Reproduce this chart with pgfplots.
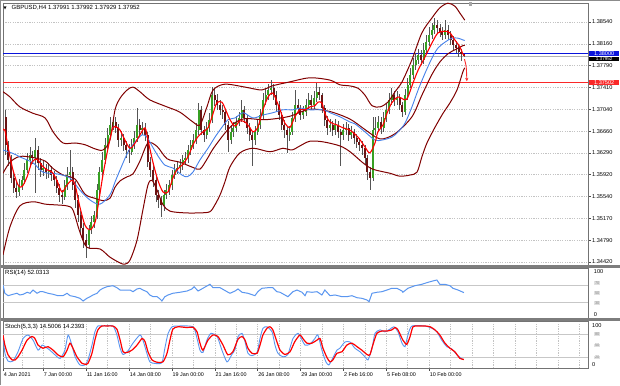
\documentclass[border=0pt]{standalone}
\usepackage{pgfplots}
\pgfplotsset{compat=1.18}
\usepackage{pgfplotstable}
\usetikzlibrary{arrows.meta}
\usepackage{fontspec}
\setmainfont{Liberation Sans}
\newfontfamily\symfont{DejaVu Sans}
\definecolor{bull}{RGB}{55,160,35}
\definecolor{bear}{RGB}{105,20,20}
\definecolor{wick}{RGB}{85,85,85}
\definecolor{bbcol}{RGB}{128,0,0}
\definecolor{maline}{RGB}{255,0,0}
\definecolor{mablue}{RGB}{70,130,235}
\definecolor{rsicol}{RGB}{90,150,240}
\definecolor{gridcol}{RGB}{195,195,195}
\definecolor{sepcol}{RGB}{125,125,125}
\definecolor{lvlblue}{RGB}{10,20,220}
\definecolor{lvlred}{RGB}{250,40,40}
\newcommand\lbl{\fontsize{6}{7}\selectfont}
\newcommand\tck{\fontsize{5.6}{6.5}\selectfont}
\newcommand\tml{\fontsize{5.4}{6}\selectfont}
\pgfplotsset{
  mtaxis/.style={
    scale only axis, width=585pt, xmin=0, xmax=218.3, anchor=south west,
    axis line style={draw=black!55, line width=0.5pt},
    minor xtick={7,15,23,31,39,47,55,63,71,79,87,95,103,111,119,127,135,143,151,159,167,175,183,191,199,207,215},
    xminorgrids=true,
    minor grid style={draw=gridcol, dash pattern=on 1.2pt off 1.2pt, line width=0.35pt},
    minor tick length=0pt,
    ytick pos=right, yticklabel pos=right,
    tick align=outside,
    yticklabel style={font=\tck, inner xsep=1.5pt},
    clip=true,
  },
  candlebar/.style={only marks, mark=none, mark size=0pt,
    error bars/.cd, y dir=both, y explicit, error mark=none,
    error bar style={color=#1, draw=#1, line width=2pt}},
}
\pgfplotstableread{
b o h l c d
1 1.3690 1.3702 1.3625 1.3643 0
2 1.3643 1.3650 1.3606 1.3617 0
3 1.3617 1.3626 1.3578 1.3586 0
4 1.3586 1.3595 1.3560 1.3569 0
5 1.3569 1.3580 1.3552 1.3562 0
6 1.3562 1.3584 1.3555 1.3572 1
7 1.3572 1.3590 1.3566 1.3582 1
8 1.3582 1.3612 1.3576 1.3600 1
9 1.3600 1.3628 1.3594 1.3617 1
10 1.3617 1.3640 1.3609 1.3625 1
11 1.3625 1.3633 1.3610 1.3620 0
12 1.3620 1.3655 1.3560 1.3634 1
13 1.3634 1.3640 1.3600 1.3612 0
14 1.3612 1.3620 1.3588 1.3600 0
15 1.3600 1.3615 1.3590 1.3603 1
16 1.3603 1.3610 1.3585 1.3596 0
17 1.3596 1.3612 1.3586 1.3600 1
18 1.3600 1.3606 1.3580 1.3591 0
19 1.3591 1.3598 1.3572 1.3582 0
20 1.3582 1.3590 1.3560 1.3569 0
21 1.3569 1.3575 1.3545 1.3557 0
22 1.3557 1.3566 1.3541 1.3553 0
23 1.3553 1.3582 1.3548 1.3574 1
24 1.3574 1.3605 1.3566 1.3591 1
25 1.3591 1.3634 1.3583 1.3596 1
26 1.3596 1.3605 1.3565 1.3574 0
27 1.3574 1.3580 1.3535 1.3548 0
28 1.3548 1.3556 1.3510 1.3522 0
29 1.3522 1.3530 1.3488 1.3500 0
30 1.3500 1.3508 1.3465 1.3479 0
31 1.3479 1.3490 1.3449 1.3471 0
32 1.3471 1.3505 1.3465 1.3497 1
33 1.3497 1.3520 1.3490 1.3510 1
34 1.3510 1.3530 1.3500 1.3522 1
35 1.3522 1.3575 1.3515 1.3565 1
36 1.3565 1.3605 1.3555 1.3596 1
37 1.3596 1.3630 1.3588 1.3617 1
38 1.3617 1.3655 1.3610 1.3643 1
39 1.3643 1.3672 1.3635 1.3660 1
40 1.3660 1.3690 1.3652 1.3677 1
41 1.3677 1.3691 1.3668 1.3682 1
42 1.3682 1.3690 1.3664 1.3672 0
43 1.3672 1.3678 1.3640 1.3651 0
44 1.3651 1.3666 1.3640 1.3655 1
45 1.3655 1.3662 1.3632 1.3643 0
46 1.3643 1.3650 1.3620 1.3634 0
47 1.3634 1.3645 1.3612 1.3631 0
48 1.3631 1.3652 1.3625 1.3643 1
49 1.3643 1.3666 1.3636 1.3655 1
50 1.3655 1.3706 1.3648 1.3677 1
51 1.3677 1.3688 1.3657 1.3668 0
52 1.3668 1.3683 1.3660 1.3672 1
53 1.3672 1.3680 1.3650 1.3660 0
54 1.3660 1.3665 1.3605 1.3613 0
55 1.3613 1.3622 1.3588 1.3600 0
56 1.3600 1.3608 1.3570 1.3582 0
57 1.3582 1.3590 1.3545 1.3557 0
58 1.3557 1.3566 1.3535 1.3548 0
59 1.3548 1.3555 1.3519 1.3540 0
60 1.3540 1.3565 1.3530 1.3557 1
61 1.3557 1.3575 1.3550 1.3565 1
62 1.3565 1.3583 1.3557 1.3574 1
63 1.3574 1.3600 1.3566 1.3591 1
64 1.3591 1.3610 1.3584 1.3600 1
65 1.3600 1.3614 1.3592 1.3603 1
66 1.3603 1.3618 1.3595 1.3608 1
67 1.3608 1.3626 1.3600 1.3617 1
68 1.3617 1.3630 1.3610 1.3620 1
69 1.3620 1.3643 1.3612 1.3634 1
70 1.3634 1.3652 1.3626 1.3643 1
71 1.3643 1.3662 1.3635 1.3651 1
72 1.3651 1.3680 1.3644 1.3668 1
73 1.3668 1.3715 1.3660 1.3703 1
74 1.3703 1.3710 1.3660 1.3668 0
75 1.3668 1.3675 1.3648 1.3660 0
76 1.3660 1.3682 1.3652 1.3672 1
77 1.3672 1.3698 1.3665 1.3686 1
78 1.3686 1.3742 1.3680 1.3728 1
79 1.3728 1.3738 1.3710 1.3720 0
80 1.3720 1.3730 1.3702 1.3711 0
81 1.3711 1.3720 1.3694 1.3703 0
82 1.3703 1.3712 1.3688 1.3699 0
83 1.3699 1.3705 1.3668 1.3677 0
84 1.3677 1.3683 1.3630 1.3651 0
85 1.3651 1.3675 1.3644 1.3665 1
86 1.3665 1.3682 1.3657 1.3672 1
87 1.3672 1.3692 1.3665 1.3682 1
88 1.3682 1.3700 1.3675 1.3689 1
89 1.3689 1.3720 1.3682 1.3703 1
90 1.3703 1.3710 1.3680 1.3689 0
91 1.3689 1.3695 1.3662 1.3672 0
92 1.3672 1.3680 1.3650 1.3660 0
93 1.3660 1.3666 1.3606 1.3651 0
94 1.3651 1.3675 1.3643 1.3665 1
95 1.3665 1.3688 1.3660 1.3677 1
96 1.3677 1.3705 1.3670 1.3694 1
97 1.3694 1.3732 1.3688 1.3720 1
98 1.3720 1.3740 1.3712 1.3728 1
99 1.3728 1.3748 1.3720 1.3737 1
100 1.3737 1.3754 1.3728 1.3740 1
101 1.3740 1.3748 1.3720 1.3728 0
102 1.3728 1.3735 1.3700 1.3711 0
103 1.3711 1.3718 1.3685 1.3694 0
104 1.3694 1.3700 1.3668 1.3677 0
105 1.3677 1.3685 1.3655 1.3668 0
106 1.3668 1.3675 1.3629 1.3660 0
107 1.3660 1.3676 1.3650 1.3665 1
108 1.3665 1.3700 1.3660 1.3689 1
109 1.3689 1.3737 1.3682 1.3711 1
110 1.3711 1.3722 1.3698 1.3706 0
111 1.3706 1.3712 1.3685 1.3694 0
112 1.3694 1.3710 1.3688 1.3699 1
113 1.3699 1.3722 1.3692 1.3711 1
114 1.3711 1.3732 1.3705 1.3720 1
115 1.3720 1.3728 1.3702 1.3711 0
116 1.3711 1.3735 1.3705 1.3723 1
117 1.3723 1.3749 1.3716 1.3734 1
118 1.3734 1.3742 1.3720 1.3728 0
119 1.3728 1.3732 1.3698 1.3706 0
120 1.3706 1.3712 1.3676 1.3686 0
121 1.3686 1.3692 1.3660 1.3672 0
122 1.3672 1.3688 1.3665 1.3677 1
123 1.3677 1.3684 1.3658 1.3668 0
124 1.3668 1.3688 1.3660 1.3677 1
125 1.3677 1.3683 1.3655 1.3665 0
126 1.3665 1.3670 1.3606 1.3660 0
127 1.3660 1.3678 1.3652 1.3668 1
128 1.3668 1.3682 1.3660 1.3672 1
129 1.3672 1.3678 1.3650 1.3660 0
130 1.3660 1.3675 1.3652 1.3665 1
131 1.3665 1.3670 1.3645 1.3655 0
132 1.3655 1.3662 1.3638 1.3648 0
133 1.3648 1.3655 1.3632 1.3643 0
134 1.3643 1.3650 1.3626 1.3637 0
135 1.3637 1.3642 1.3608 1.3620 0
136 1.3620 1.3625 1.3583 1.3596 0
137 1.3596 1.3605 1.3565 1.3586 0
138 1.3586 1.3691 1.3580 1.3668 1
139 1.3668 1.3690 1.3660 1.3672 1
140 1.3672 1.3692 1.3665 1.3682 1
141 1.3682 1.3690 1.3662 1.3672 0
142 1.3672 1.3700 1.3665 1.3689 1
143 1.3689 1.3715 1.3682 1.3703 1
144 1.3703 1.3732 1.3696 1.3720 1
145 1.3720 1.3740 1.3712 1.3728 1
146 1.3728 1.3736 1.3710 1.3720 0
147 1.3720 1.3735 1.3712 1.3723 1
148 1.3723 1.3730 1.3702 1.3711 0
149 1.3711 1.3716 1.3690 1.3699 0
150 1.3699 1.3738 1.3694 1.3728 1
151 1.3728 1.3757 1.3720 1.3746 1
152 1.3746 1.3775 1.3740 1.3763 1
153 1.3763 1.3792 1.3756 1.3780 1
154 1.3780 1.3800 1.3772 1.3789 1
155 1.3789 1.3808 1.3782 1.3797 1
156 1.3797 1.3805 1.3780 1.3789 0
157 1.3789 1.3818 1.3782 1.3806 1
158 1.3806 1.3832 1.3800 1.3819 1
159 1.3819 1.3845 1.3812 1.3831 1
160 1.3831 1.3852 1.3825 1.3840 1
161 1.3840 1.3861 1.3834 1.3849 1
162 1.3849 1.3858 1.3834 1.3843 0
163 1.3843 1.3850 1.3828 1.3837 0
164 1.3837 1.3845 1.3822 1.3831 0
165 1.3831 1.3857 1.3825 1.3840 1
166 1.3840 1.3848 1.3822 1.3831 0
167 1.3831 1.3838 1.3814 1.3823 0
168 1.3823 1.3830 1.3806 1.3814 0
169 1.3814 1.3822 1.3800 1.3809 0
170 1.3809 1.3815 1.3794 1.3802 0
171 1.3802 1.3808 1.3786 1.37991 0
172 1.37991 1.37992 1.37929 1.37952 0
}\candles
\begin{document}
\begin{tikzpicture}
\path[use as bounding box, fill=white] (0pt,0pt) rectangle (620pt,385pt);
% ---------------- main price panel ----------------
\begin{axis}[mtaxis, at={(3pt,120pt)}, height=262pt,
  ymin=1.34365, ymax=1.38864,
  xtick=\empty,
  ytick={1.3442,1.3479,1.3517,1.3554,1.3592,1.3629,1.3666,1.3704,1.3741,1.3779,1.3816,1.3854},
  yticklabels={1.34420,1.34790,1.35170,1.35540,1.35920,1.36290,1.36660,1.37040,1.37410,1.37790,1.38160,1.38540},
  ymajorgrids=true,
  major grid style={draw=gridcol, dash pattern=on 1.2pt off 1.2pt, line width=0.35pt},
  major tick length=2.5pt, ytick style={draw=black!70, line width=0.4pt},
]
\addplot[black!30, line width=0.4pt] coordinates {(0,1.37952) (218.3,1.37952)};
\addplot[lvlblue, line width=1.1pt] coordinates {(0,1.38000) (218.3,1.38000)};
\addplot[lvlred, line width=1.3pt] coordinates {(0,1.37502) (218.3,1.37502)};
% candles: wicks, then bodies
\addplot[wick, only marks, mark=none, mark size=0pt, error bars/.cd, y dir=both, y explicit, error mark=none,
  error bar style={color=wick, line width=0.5pt}]
  table[x=b, y expr=(\thisrow{h}+\thisrow{l})/2, y error expr=(\thisrow{h}-\thisrow{l})/2] {\candles};
\addplot[bull, candlebar=bull]
  table[x=b, y expr=(\thisrow{o}+\thisrow{c})/2, y error expr=\thisrow{d}*abs(\thisrow{c}-\thisrow{o})/2] {\candles};
\addplot[bear, candlebar=bear]
  table[x=b, y expr=(\thisrow{o}+\thisrow{c})/2, y error expr=(1-\thisrow{d})*abs(\thisrow{c}-\thisrow{o})/2] {\candles};
% Bollinger bands
\addplot[bbcol, line width=1pt, smooth, tension=0.5] coordinates {
(0,1.3734)(2.6,1.3725)(6.3,1.3708)(11.2,1.3697)(15.7,1.3689)(18.7,1.3665)(22.4,1.3646)(26.9,1.3646)(30.6,1.3643)(34.3,1.3636)(37.3,1.3634)(39.9,1.3651)(41.8,1.3703)(43.7,1.3723)(46.3,1.3737)(48.5,1.3742)(51.1,1.3734)(54.8,1.3720)(61.2,1.3708)(66.0,1.3699)(70.9,1.3682)(73.5,1.3677)(76.1,1.3708)(78.4,1.3737)(82.8,1.3747)(90.3,1.3742)(96.6,1.3737)(100.4,1.3744)(107.1,1.3751)(114.5,1.3758)(122.0,1.3754)(125.7,1.3746)(129.5,1.3744)(132.5,1.3740)(135.1,1.3728)(137.7,1.3710)(140.7,1.3708)(143.6,1.3716)(146.3,1.3734)(148.9,1.3751)(152.6,1.3789)(156.3,1.3835)(160.1,1.3861)(163.0,1.3878)(166.0,1.3886)(168.6,1.3881)(170.5,1.3869)(172.3,1.3857)};
\addplot[bbcol, line width=1pt, smooth, tension=0.5] coordinates {
(0,1.3594)(2.6,1.3613)(6.3,1.3623)(11.2,1.3621)(15.7,1.3615)(18.7,1.3602)(22.4,1.3591)(26.9,1.3584)(30.6,1.3558)(34.3,1.3551)(37.3,1.3547)(39.9,1.3551)(41.8,1.3570)(43.7,1.3581)(46.3,1.3588)(48.5,1.3593)(51.1,1.3615)(54.1,1.3646)(57.5,1.3640)(61.2,1.3619)(66.0,1.3613)(70.9,1.3604)(73.5,1.3601)(76.1,1.3618)(78.4,1.3636)(82.8,1.3663)(86.6,1.3681)(90.3,1.3688)(96.6,1.3686)(100.4,1.3687)(107.1,1.3692)(114.5,1.3704)(122.0,1.3700)(129.5,1.3687)(135.1,1.3669)(140.7,1.3653)(146.3,1.3662)(152.6,1.3691)(156.3,1.3728)(160.1,1.3764)(163.0,1.3785)(166.0,1.3799)(168.6,1.3806)(171.6,1.3813)(172.3,1.3814)};
\addplot[bbcol, line width=1pt, smooth, tension=0.5] coordinates {
(0,1.3454)(2.6,1.3502)(6.3,1.3538)(11.2,1.3545)(15.7,1.3541)(18.7,1.3540)(23.9,1.3538)(26.1,1.3531)(28.7,1.3493)(31.3,1.3467)(36.2,1.3464)(39.9,1.3450)(43.7,1.3440)(45.5,1.3438)(47.4,1.3445)(50.0,1.3479)(52.2,1.3531)(54.1,1.3574)(55.6,1.3582)(57.5,1.3565)(59.7,1.3540)(62.3,1.3529)(67.9,1.3526)(73.5,1.3526)(77.2,1.3528)(79.1,1.3540)(81.0,1.3557)(82.8,1.3579)(84.7,1.3605)(88.4,1.3629)(93.3,1.3637)(99.6,1.3631)(104.5,1.3637)(107.8,1.3634)(110.8,1.3641)(114.5,1.3649)(119.4,1.3648)(125.7,1.3641)(129.5,1.3631)(134.3,1.3612)(138.0,1.3601)(144.4,1.3594)(148.1,1.3589)(151.9,1.3591)(154.5,1.3596)(156.3,1.3622)(158.2,1.3646)(161.2,1.3673)(164.2,1.3697)(166.8,1.3715)(169.4,1.3737)(171.6,1.3768)(172.3,1.3775)};
% slow MA (blue)
\addplot[mablue, line width=0.9pt, smooth, tension=0.5] coordinates {
(0,1.3634)(2.6,1.3630)(5.2,1.3625)(6.3,1.3622)(11.2,1.3612)(14.9,1.3596)(20.1,1.3593)(25.0,1.3586)(28.7,1.3565)(32.5,1.3548)(36.2,1.3541)(39.9,1.3557)(41.8,1.3579)(43.7,1.3600)(46.6,1.3630)(49.3,1.3648)(51.9,1.3660)(53.7,1.3656)(55.6,1.3641)(57.8,1.3624)(60.4,1.3608)(63.4,1.3603)(66.8,1.3591)(68.7,1.3588)(70.9,1.3596)(73.5,1.3617)(76.5,1.3637)(79.1,1.3656)(81.7,1.3673)(84.0,1.3686)(86.6,1.3689)(89.6,1.3698)(93.3,1.3689)(97.0,1.3694)(100.7,1.3698)(104.5,1.3703)(108.2,1.3703)(110.8,1.3706)(114.5,1.3703)(119.4,1.3703)(122.0,1.3698)(125.7,1.3691)(129.5,1.3682)(131.3,1.3679)(135.1,1.3665)(138.8,1.3651)(141.4,1.3651)(145.1,1.3656)(147.4,1.3665)(150.0,1.3680)(152.6,1.3708)(154.9,1.3737)(157.5,1.3766)(160.1,1.3792)(162.3,1.3809)(164.9,1.3819)(167.5,1.3826)(169.8,1.3826)(171.6,1.3823)(172.3,1.3822)};
% fast MA (red)
\addplot[maline, line width=1.1pt, smooth, tension=0.5] coordinates {
(0,1.3668)(0.7,1.3668)(1.9,1.3639)(3.7,1.3600)(5.6,1.3574)(7.1,1.3571)(9.0,1.3588)(10.8,1.3613)(12.7,1.3618)(14.6,1.3607)(16.4,1.3600)(18.3,1.3596)(20.1,1.3582)(22.0,1.3562)(23.9,1.3574)(25.7,1.3582)(26.9,1.3574)(28.7,1.3536)(30.6,1.3505)(32.5,1.3497)(34.3,1.3509)(35.4,1.3536)(37.3,1.3591)(39.2,1.3637)(41.0,1.3672)(42.5,1.3673)(43.7,1.3668)(45.5,1.3651)(47.4,1.3637)(49.3,1.3646)(51.1,1.3660)(53.0,1.3672)(54.1,1.3651)(56.0,1.3612)(57.8,1.3582)(59.7,1.3562)(61.6,1.3562)(63.4,1.3586)(64.9,1.3600)(66.8,1.3608)(69.0,1.3622)(70.9,1.3643)(72.8,1.3657)(74.6,1.3665)(76.5,1.3672)(78.0,1.3691)(79.8,1.3715)(81.7,1.3716)(82.8,1.3706)(84.7,1.3686)(86.6,1.3675)(88.4,1.3684)(90.3,1.3682)(92.2,1.3672)(93.3,1.3665)(95.1,1.3673)(97.0,1.3703)(98.9,1.3725)(100.4,1.3732)(101.5,1.3725)(103.4,1.3703)(105.2,1.3680)(107.1,1.3673)(108.9,1.3691)(110.8,1.3703)(112.7,1.3703)(114.5,1.3708)(116.4,1.3710)(117.5,1.3716)(119.0,1.3715)(120.1,1.3697)(122.0,1.3682)(124.6,1.3677)(126.9,1.3672)(129.5,1.3668)(132.5,1.3656)(135.1,1.3639)(136.9,1.3629)(138.8,1.3646)(139.9,1.3665)(141.8,1.3677)(143.3,1.3697)(145.1,1.3715)(147.4,1.3725)(150.0,1.3720)(151.1,1.3725)(153.0,1.3749)(154.9,1.3771)(157.5,1.3794)(160.1,1.3818)(162.3,1.3835)(164.9,1.3838)(166.8,1.3835)(168.6,1.3823)(170.5,1.3811)(171.6,1.3799)(172.3,1.3796)};
\draw[lvlred, line width=0.9pt, -{Stealth[length=3.5pt,width=3.2pt]}] (axis cs:172.2,1.3790) .. controls (axis cs:172.9,1.3778) .. (axis cs:173.1,1.3752);
\end{axis}
% ---------------- RSI panel ----------------
\begin{axis}[mtaxis, at={(3pt,67pt)}, height=50pt,
  ymin=-7, ymax=109.3, xtick=\empty,
  ytick={0,100}, yticklabels={0,100}, ytick style={draw=none},
]
\addplot[black!22, line width=0.5pt] coordinates {(0,70) (218.3,70)};
\addplot[black!22, line width=0.5pt] coordinates {(0,30) (218.3,30)};
\addplot[rsicol, line width=1pt] coordinates {
(0,69.8)(0.7,50.5)(1.9,44.9)(3.7,48.1)(5.2,50.5)(6.3,46.5)(7.5,48.1)(9.0,52.8)(10.1,50.5)(11.2,58.1)(12.7,50.5)(13.8,54.2)(14.9,54.2)(16.8,50.5)(18.7,48.1)(20.5,44.9)(22.4,44.9)(23.9,50.5)(25.0,44.9)(26.9,42.6)(28.7,38.8)(29.9,32.6)(31.3,38.8)(32.5,42.6)(33.6,46.5)(35.1,50.5)(36.2,58.1)(37.3,62.1)(38.8,65.8)(41.0,68.1)(42.5,63.5)(43.7,58.1)(45.5,58.1)(47.4,58.1)(48.5,54.2)(50.0,60.5)(51.1,62.1)(52.2,58.1)(53.7,54.2)(54.8,46.5)(56.0,42.6)(57.5,42.6)(58.6,37.2)(59.3,32.6)(60.4,42.6)(61.6,46.5)(63.4,50.5)(66.0,52.8)(68.7,55.8)(70.5,60.5)(71.3,65.8)(72.8,55.8)(74.6,62.1)(77.2,71.4)(78.4,63.5)(81.0,63.5)(83.6,54.2)(84.7,50.5)(86.6,55.8)(87.7,60.5)(89.2,52.8)(91.4,50.5)(94.0,44.9)(95.1,54.2)(96.6,62.1)(98.9,63.5)(100.7,63.5)(102.2,54.2)(103.4,52.8)(105.2,46.5)(106.3,42.6)(108.2,54.2)(109.7,58.1)(111.6,52.8)(112.7,44.9)(113.4,54.2)(115.3,52.8)(117.2,54.2)(119.0,46.5)(120.1,58.1)(122.0,44.9)(123.9,46.5)(126.5,42.6)(128.3,42.6)(130.2,44.9)(132.1,40.2)(133.9,38.8)(135.8,34.9)(136.6,30.9)(137.7,50.5)(139.5,52.8)(141.4,54.2)(143.3,58.1)(145.1,62.1)(147.0,62.1)(148.9,55.8)(149.2,52.8)(151.1,62.1)(153.7,68.1)(156.3,71.4)(158.6,76.0)(160.4,79.1)(161.9,81.4)(163.0,71.4)(164.9,71.4)(166.8,68.1)(167.9,62.1)(169.8,58.1)(172.0,52.03)};
\end{axis}
% ---------------- Stochastic panel ----------------
\begin{axis}[mtaxis, at={(3pt,17pt)}, height=47pt,
  ymin=-7.7, ymax=112.8,
  xtick={0,15,31,47,63,79,95,111,127,143,159},
  xticklabels={4 Jan 2021,7 Jan 00:00,11 Jan 16:00,14 Jan 08:00,19 Jan 00:00,21 Jan 16:00,26 Jan 08:00,29 Jan 00:00,2 Feb 16:00,5 Feb 08:00,10 Feb 00:00},
  xtick pos=left, major tick length=2.5pt,
  xtick style={draw=black!70, line width=0.4pt},
  xticklabel style={anchor=north west, font=\tml, inner xsep=0.6pt, inner ysep=2pt},
  ytick={0,100}, yticklabels={0,100}, ytick style={draw=none},
]
\addplot[black!22, line width=0.5pt] coordinates {(0,80) (218.3,80)};
\addplot[black!22, line width=0.5pt] coordinates {(0,20) (218.3,20)};
\addplot[rsicol, line width=0.9pt, smooth, tension=0.4] coordinates {
(0,77)(0.7,31)(1.9,10)(3.7,10)(5.6,34)(7.5,68)(9.3,77)(11.2,64)(13.1,38)(14.6,51)(15.7,47)(17.5,38)(19.4,26)(21.3,17)(23.1,38)(24.3,77)(25.7,51)(26.9,21)(28.7,0)(30.6,0)(31.7,13)(33.2,51)(34.3,85)(35.4,100)(37.3,100)(41.0,100)(42.5,77)(43.7,43)(44.8,27)(46.6,36)(48.5,56)(51.1,77)(52.2,64)(53.7,30)(54.8,8)(56.7,4)(59.3,6)(60.4,43)(61.6,81)(63.1,98)(65.3,100)(70.9,98)(72.4,68)(73.5,38)(74.6,32)(76.1,64)(77.6,81)(79.9,73)(81.7,38)(83.6,8)(85.4,27)(86.6,40)(87.7,73)(89.2,81)(90.3,60)(91.4,30)(92.9,24)(94.8,32)(95.9,68)(97.0,94)(98.5,98)(100.4,85)(101.5,51)(102.6,30)(104.5,21)(106.3,27)(108.2,68)(110.1,81)(111.6,64)(112.7,51)(114.5,53)(116.4,68)(117.5,77)(119.0,38)(120.5,8)(121.6,0)(122.7,13)(124.6,38)(125.7,43)(127.6,59)(129.5,59)(131.3,43)(133.2,34)(135.1,21)(136.2,13)(137.7,43)(138.8,81)(140.7,90)(142.5,85)(144.4,92)(145.9,98)(147.4,85)(148.9,56)(150.0,47)(151.1,77)(152.6,100)(157.5,100)(160.1,94)(161.9,85)(163.7,64)(165.6,47)(167.5,41)(169.4,26)(171.2,16)(172.0,14.5)};
\addplot[maline, line width=1.2pt, smooth, tension=0.4] coordinates {
(0,77)(0.7,51)(1.9,26)(3.4,13)(4.5,13)(5.6,21)(7.1,38)(9.0,64)(10.8,73)(11.9,68)(13.1,51)(14.9,43)(16.8,47)(18.7,38)(20.5,26)(22.4,21)(23.9,38)(25.0,56)(26.1,43)(27.6,21)(29.5,4)(30.6,2)(31.7,4)(33.2,30)(34.3,64)(35.4,90)(36.9,100)(38.8,100)(41.0,100)(42.5,92)(43.7,64)(44.8,34)(46.3,32)(48.1,38)(50.0,51)(51.9,68)(53.0,60)(54.1,34)(55.6,13)(57.5,7)(59.7,8)(61.2,30)(62.3,64)(63.4,92)(65.3,98)(68.7,96)(70.9,97)(72.4,85)(73.5,56)(74.6,38)(76.5,64)(78.4,77)(80.2,73)(82.1,51)(83.9,26)(85.8,34)(87.7,66)(89.2,73)(90.3,64)(91.4,43)(92.9,30)(94.8,30)(95.9,51)(97.0,77)(98.5,94)(99.6,98)(100.7,90)(102.2,60)(103.4,38)(105.2,27)(107.1,34)(108.9,60)(110.8,77)(111.9,68)(113.4,56)(115.3,56)(117.2,64)(118.3,68)(119.4,43)(120.9,19)(122.0,8)(123.1,13)(124.6,30)(126.5,34)(128.3,51)(130.2,56)(132.1,47)(133.9,38)(135.8,27)(136.9,26)(138.0,51)(139.5,81)(141.4,87)(143.3,87)(145.1,90)(146.3,96)(147.4,90)(149.2,64)(150.7,53)(151.9,73)(153.0,98)(154.9,100)(157.5,100)(159.4,98)(161.2,90)(163.0,77)(164.9,56)(166.8,43)(168.6,34)(170.5,17)(172.0,14.2)};
\end{axis}
% ---------------- separators, labels ----------------
\fill[sepcol] (0pt,117pt) rectangle (620pt,120pt);
\fill[sepcol] (0pt,64pt) rectangle (620pt,67pt);
\draw[black!45, line width=0.8pt] (0pt,384.6pt) -- (620pt,384.6pt);
\draw[black!45, line width=0.8pt] (0.4pt,0pt) -- (0.4pt,385pt);
\fill[black!35] (469pt,383pt) rectangle (472pt,379pt);
\node[anchor=west, inner sep=0pt] at (3.5pt,377pt) {\symfont\fontsize{4}{4}\selectfont ▼};
\node[anchor=west, inner sep=0pt, font=\lbl] at (11.5pt,377pt) {GBPUSD,H4 1.37991 1.37992 1.37929 1.37952};
\node[anchor=west, inner sep=0pt, font=\lbl] at (5pt,112pt) {RSI(14) 52.0313};
\node[anchor=west, inner sep=0pt, font=\lbl] at (5pt,58pt) {Stoch(5,3,3) 14.5006 14.2393};
\node[anchor=west, fill=lvlblue, text=white, inner xsep=1.5pt, inner ysep=0.8pt, minimum width=30pt, font=\tck] at (589pt,331.7pt) {1.38000};
\node[anchor=west, fill=black, text=white, inner xsep=1.5pt, inner ysep=0.4pt, minimum width=30pt, font=\fontsize{4.6}{5}\selectfont] at (589pt,326.2pt) {1.37952};
\node[anchor=west, fill=lvlred, text=white, inner xsep=1.5pt, inner ysep=0.8pt, minimum width=30pt, font=\tck] at (589pt,302.3pt) {1.37502};
\foreach \yy/\tt in {102/70,92/50,82/30,51/80,39.5/50,27.5/20}
  \node[anchor=west, fill=black!12, text=black!45, inner xsep=0.8pt, inner ysep=0.3pt, font=\fontsize{4}{4.5}\selectfont] at (594pt,\yy pt) {\tt};
\end{tikzpicture}
\end{document}
